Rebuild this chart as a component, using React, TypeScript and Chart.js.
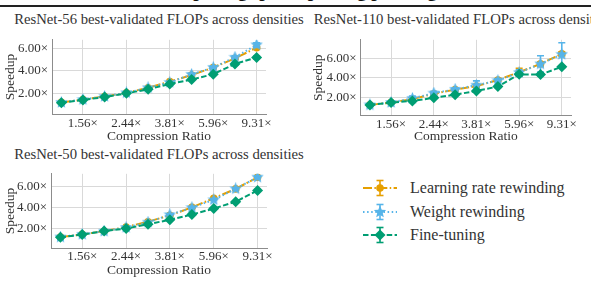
import React, { useEffect, useRef } from "react";
import { Chart, registerables } from "chart.js";

Chart.register(...registerables);

// Compression ratios (x) shared by every panel
const compressionRatios = [1.25, 1.56, 1.95, 2.44, 3.05, 3.81, 4.77, 5.96, 7.45, 9.31];
const xTickRatios = [1.56, 2.44, 3.81, 5.96, 9.31];
const yTickValues = [2, 4, 6];

const seriesNames = ["Learning rate rewinding", "Weight rewinding", "Fine-tuning"];

// ResNet-56 speedups
const r56Lr = [1.2, 1.45, 1.72, 2.05, 2.5, 3.05, 3.62, 4.3, 5.1, 6.05];
const r56Wr = [1.2, 1.45, 1.73, 2.05, 2.5, 2.97, 3.68, 4.3, 5.2, 6.3];
const r56Ft = [1.17, 1.42, 1.67, 2.0, 2.36, 2.83, 3.22, 3.7, 4.61, 5.19];
const r56LrErr = [0.02, 0.02, 0.03, 0.03, 0.04, 0.05, 0.05, 0.06, 0.08, 0.1];
const r56WrErr = [0.02, 0.02, 0.03, 0.04, 0.05, 0.06, 0.08, 0.1, 0.12, 0.18];
const r56FtErr = [0.02, 0.02, 0.02, 0.03, 0.03, 0.04, 0.05, 0.06, 0.08, 0.1];

// ResNet-110 speedups
const r110Lr = [1.2, 1.45, 1.8, 2.35, 2.78, 3.15, 3.78, 4.6, 5.45, 6.5];
const r110Wr = [1.2, 1.45, 1.87, 2.42, 2.81, 3.24, 3.72, 4.55, 5.45, 6.44];
const r110Ft = [1.19, 1.44, 1.61, 1.93, 2.26, 2.65, 3.1, 4.37, 4.34, 5.15];
const r110LrErr = [0.02, 0.03, 0.05, 0.1, 0.08, 0.1, 0.1, 0.4, 0.2, 0.2];
const r110WrErr = [0.03, 0.05, 0.25, 0.2, 0.15, 0.45, 0.2, 0.3, 0.85, 1.2];
const r110FtErr = [0.02, 0.03, 0.04, 0.05, 0.05, 0.06, 0.08, 0.15, 0.1, 0.1];

// ResNet-50 speedups
const r50Lr = [1.2, 1.45, 1.75, 2.15, 2.65, 3.25, 4.0, 4.87, 5.75, 6.85];
const r50Wr = [1.2, 1.45, 1.75, 2.1, 2.6, 3.3, 3.98, 4.72, 5.76, 6.86];
const r50Ft = [1.17, 1.43, 1.76, 2.0, 2.41, 2.83, 3.33, 3.89, 4.54, 5.61];
const r50LrErr = [0.02, 0.02, 0.03, 0.03, 0.04, 0.05, 0.05, 0.06, 0.07, 0.08];
const r50WrErr = [0.02, 0.02, 0.03, 0.03, 0.04, 0.05, 0.06, 0.07, 0.08, 0.1];
const r50FtErr = [0.02, 0.02, 0.03, 0.03, 0.04, 0.04, 0.05, 0.06, 0.07, 0.08];

const ORANGE = "#E69F00";
const BLUE = "#56B4E9";
const GREEN = "#009E73";
const TEXT = "#333333";
const SERIF = "Liberation Serif";

const DASH_DOT = [9, 2.4, 1.5, 2.4];
const DOTTED = [1.5, 2.6];
const DASHED = [5.5, 2.4];

function makeStar(size: number, color: string) {
  const c = document.createElement("canvas");
  c.width = size;
  c.height = size;
  const ctx = c.getContext("2d")!;
  const cx = size / 2;
  const cy = size / 2;
  const R = size / 2;
  const r = R * 0.45;
  ctx.beginPath();
  for (let i = 0; i < 10; i++) {
    const a = -Math.PI / 2 + (i * Math.PI) / 5;
    const rad = i % 2 === 0 ? R : r;
    ctx.lineTo(cx + rad * Math.cos(a), cy + rad * Math.sin(a));
  }
  ctx.closePath();
  ctx.fillStyle = color;
  ctx.fill();
  return c;
}

// Vertical error bars with caps, drawn beneath each dataset's own line and markers
const errorBarPlugin = {
  id: "errorBars",
  beforeDatasetDraw(chart: any, args: any) {
    const ds = chart.data.datasets[args.index];
    const errs: number[] | undefined = ds.errors;
    if (!errs) return;
    const yScale = chart.scales.y;
    const ctx = chart.ctx;
    ctx.save();
    ctx.strokeStyle = ds.borderColor;
    ctx.lineWidth = 1.6;
    ctx.setLineDash([]);
    args.meta.data.forEach((pt: any, i: number) => {
      const v = ds.data[i].y;
      const e = errs[i];
      const top = yScale.getPixelForValue(v + e);
      const bot = yScale.getPixelForValue(v - e);
      ctx.beginPath();
      ctx.moveTo(pt.x, top);
      ctx.lineTo(pt.x, bot);
      ctx.moveTo(pt.x - 3.5, top);
      ctx.lineTo(pt.x + 3.5, top);
      ctx.moveTo(pt.x - 3.5, bot);
      ctx.lineTo(pt.x + 3.5, bot);
      ctx.stroke();
    });
    ctx.restore();
  },
};

type PanelProps = {
  left: number;
  top: number;
  width: number;
  height: number;
  lr: number[];
  wr: number[];
  ft: number[];
  lrErr: number[];
  wrErr: number[];
  ftErr: number[];
  yMin: number;
  yMax: number;
  yAxisWidth: number;
  xAxisHeight: number;
  padRight: number;
  padTop: number;
  yTitlePad: number;
  xTickPad: number;
  xTitlePad: number;
};

function Panel(p: PanelProps) {
  const ref = useRef<HTMLCanvasElement | null>(null);

  useEffect(() => {
    if (!ref.current) return;
    const toPts = (vals: number[]) => vals.map((y, i) => ({ x: compressionRatios[i], y }));
    const lo = Math.log(compressionRatios[0]);
    const hi = Math.log(compressionRatios[compressionRatios.length - 1]);
    const m = (hi - lo) * 0.048;

    const chart = new Chart(ref.current, {
      type: "line",
      data: {
        datasets: [
          {
            label: seriesNames[0],
            data: toPts(p.lr),
            errors: p.lrErr,
            borderColor: ORANGE,
            backgroundColor: ORANGE,
            borderWidth: 2,
            borderDash: DASH_DOT,
            pointStyle: "circle",
            pointRadius: 3.8,
            pointBorderWidth: 0,
            order: 3,
          } as any,
          {
            label: seriesNames[1],
            data: toPts(p.wr),
            errors: p.wrErr,
            borderColor: BLUE,
            backgroundColor: BLUE,
            borderWidth: 2,
            borderDash: DOTTED,
            pointStyle: makeStar(13, BLUE),
            pointRadius: 6.5,
            order: 2,
          } as any,
          {
            label: seriesNames[2],
            data: toPts(p.ft),
            errors: p.ftErr,
            borderColor: GREEN,
            backgroundColor: GREEN,
            borderWidth: 2,
            borderDash: DASHED,
            pointStyle: "rectRot",
            pointRadius: 5.5,
            pointBorderWidth: 0,
            order: 1,
          } as any,
        ],
      },
      options: {
        animation: false,
        responsive: false,
        events: [],
        layout: { padding: { left: 0, right: p.padRight, top: p.padTop, bottom: 0 } },
        plugins: { legend: { display: false }, tooltip: { enabled: false }, title: { display: false } },
        elements: { line: { tension: 0 } },
        scales: {
          x: {
            type: "logarithmic",
            min: Math.exp(lo - m),
            max: Math.exp(hi + m),
            afterBuildTicks: (scale: any) => {
              scale.ticks = xTickRatios.map((v) => ({ value: v }));
            },
            afterFit: (scale: any) => {
              scale.height = p.xAxisHeight;
            },
            grid: { color: "#d9d9d9", lineWidth: 1, drawTicks: false },
            border: { display: true, color: "#8c8c8c", width: 1 },
            ticks: {
              autoSkip: false,
              maxRotation: 0,
              padding: p.xTickPad,
              color: TEXT,
              font: { family: SERIF, size: 13 },
              callback: (v: any) => Number(v).toFixed(2) + "×",
            },
            title: {
              display: true,
              text: "Compression Ratio",
              color: TEXT,
              font: { family: SERIF, size: 13.5 },
              padding: { top: 0, bottom: p.xTitlePad },
            },
          },
          y: {
            type: "linear",
            min: p.yMin,
            max: p.yMax,
            afterBuildTicks: (scale: any) => {
              scale.ticks = yTickValues.map((v) => ({ value: v }));
            },
            afterFit: (scale: any) => {
              scale.width = p.yAxisWidth;
            },
            grid: { color: "#d9d9d9", lineWidth: 1, drawTicks: false },
            border: { display: true, color: "#8c8c8c", width: 1 },
            ticks: {
              padding: 4,
              color: TEXT,
              font: { family: SERIF, size: 13 },
              callback: (v: any) => Number(v).toFixed(2) + "×",
            },
            title: {
              display: true,
              text: "Speedup",
              color: TEXT,
              font: { family: SERIF, size: 13.5 },
              padding: { top: p.yTitlePad, bottom: 0 },
            },
          },
        },
      } as any,
      plugins: [errorBarPlugin],
    });
    return () => chart.destroy();
  }, []);

  return (
    <canvas
      ref={ref}
      width={p.width}
      height={p.height}
      style={{ position: "absolute", left: p.left, top: p.top, width: p.width, height: p.height }}
    />
  );
}

function PanelTitle({ text, centerX, top }: { text: string; centerX: number; top: number }) {
  return (
    <div
      style={{
        position: "absolute",
        left: centerX - 200,
        width: 400,
        top,
        textAlign: "center",
        whiteSpace: "nowrap",
        fontFamily: SERIF,
        fontSize: 14.7,
        lineHeight: "16px",
        color: TEXT,
      }}
    >
      {text}
    </div>
  );
}

function starPoints(cx: number, cy: number, R: number) {
  const pts: string[] = [];
  for (let i = 0; i < 10; i++) {
    const a = -Math.PI / 2 + (i * Math.PI) / 5;
    const rad = i % 2 === 0 ? R : R * 0.45;
    pts.push(`${(cx + rad * Math.cos(a)).toFixed(2)},${(cy + rad * Math.sin(a)).toFixed(2)}`);
  }
  return pts.join(" ");
}

function LegendGlyph({ kind }: { kind: number }) {
  const color = [ORANGE, BLUE, GREEN][kind];
  const dash = [DASH_DOT, DOTTED, DASHED][kind].join(" ");
  const cx = 17;
  const cy = 10;
  return (
    <svg width={36} height={20} style={{ position: "absolute", left: 0, top: 0 }}>
      <line x1={0} y1={cy} x2={34} y2={cy} stroke={color} strokeWidth={2} strokeDasharray={dash} />
      <line x1={cx} y1={cy - 7.5} x2={cx} y2={cy + 7.5} stroke={color} strokeWidth={1.6} />
      <line x1={cx - 3.5} y1={cy - 7.5} x2={cx + 3.5} y2={cy - 7.5} stroke={color} strokeWidth={1.6} />
      <line x1={cx - 3.5} y1={cy + 7.5} x2={cx + 3.5} y2={cy + 7.5} stroke={color} strokeWidth={1.6} />
      {kind === 0 && <circle cx={cx} cy={cy} r={3.8} fill={color} />}
      {kind === 1 && <polygon points={starPoints(cx, cy, 6.5)} fill={color} />}
      {kind === 2 && <polygon points={`${cx},${cy - 5.5} ${cx + 5.5},${cy} ${cx},${cy + 5.5} ${cx - 5.5},${cy}`} fill={color} />}
    </svg>
  );
}

function Legend() {
  const rowsY = [188, 212, 235];
  return (
    <>
      {seriesNames.map((name, i) => (
        <div key={name} style={{ position: "absolute", left: 363, top: rowsY[i] - 10, height: 20, width: 228 }}>
          <LegendGlyph kind={i} />
          <div
            style={{
              position: "absolute",
              left: 47,
              top: 0,
              lineHeight: "20px",
              fontFamily: SERIF,
              fontSize: 16,
              color: TEXT,
              whiteSpace: "nowrap",
            }}
          >
            {name}
          </div>
        </div>
      ))}
    </>
  );
}

export default function App() {
  return (
    <div
      style={{
        position: "absolute",
        left: 0,
        top: 0,
        width: 591,
        height: 285,
        overflow: "hidden",
        background: "#ffffff",
      }}
    >
      <div
        style={{
          position: "absolute",
          left: 0,
          width: 591,
          top: -19.5,
          textAlign: "center",
          fontFamily: SERIF,
          fontWeight: "bold",
          fontSize: 19,
          lineHeight: "20px",
          color: "#111",
          whiteSpace: "nowrap",
        }}
      >
        Comparing speedup using pruning
      </div>
      <div style={{ position: "absolute", left: 0, top: 5, width: 591, height: 1.6, background: "#222" }} />

      <PanelTitle text="ResNet-56 best-validated FLOPs across densities" centerX={159} top={11.3} />
      <PanelTitle text="ResNet-110 best-validated FLOPs across densities" centerX={462} top={11.3} />
      <PanelTitle text="ResNet-50 best-validated FLOPs across densities" centerX={159} top={145.8} />

      <Panel
        left={0}
        top={28}
        width={300}
        height={118}
        lr={r56Lr}
        wr={r56Wr}
        ft={r56Ft}
        lrErr={r56LrErr}
        wrErr={r56WrErr}
        ftErr={r56FtErr}
        yMin={0.17}
        yMax={6.75}
        yAxisWidth={52}
        xAxisHeight={32}
        padRight={34}
        padTop={7}
        yTitlePad={2}
        xTickPad={2.2}
        xTitlePad={1}
      />
      <Panel
        left={300}
        top={28}
        width={291}
        height={118}
        lr={r110Lr}
        wr={r110Wr}
        ft={r110Ft}
        lrErr={r110LrErr}
        wrErr={r110WrErr}
        ftErr={r110FtErr}
        yMin={0.1}
        yMax={7.95}
        yAxisWidth={60.7}
        xAxisHeight={30.5}
        padRight={20}
        padTop={7}
        yTitlePad={9.9}
        xTickPad={1}
        xTitlePad={1.2}
      />
      <Panel
        left={0}
        top={162}
        width={300}
        height={118}
        lr={r50Lr}
        wr={r50Wr}
        ft={r50Ft}
        lrErr={r50LrErr}
        wrErr={r50WrErr}
        ftErr={r50FtErr}
        yMin={0.16}
        yMax={7.18}
        yAxisWidth={51}
        xAxisHeight={32}
        padRight={33}
        padTop={7}
        yTitlePad={2}
        xTickPad={1.2}
        xTitlePad={1.9}
      />
      <Legend />
    </div>
  );
}
